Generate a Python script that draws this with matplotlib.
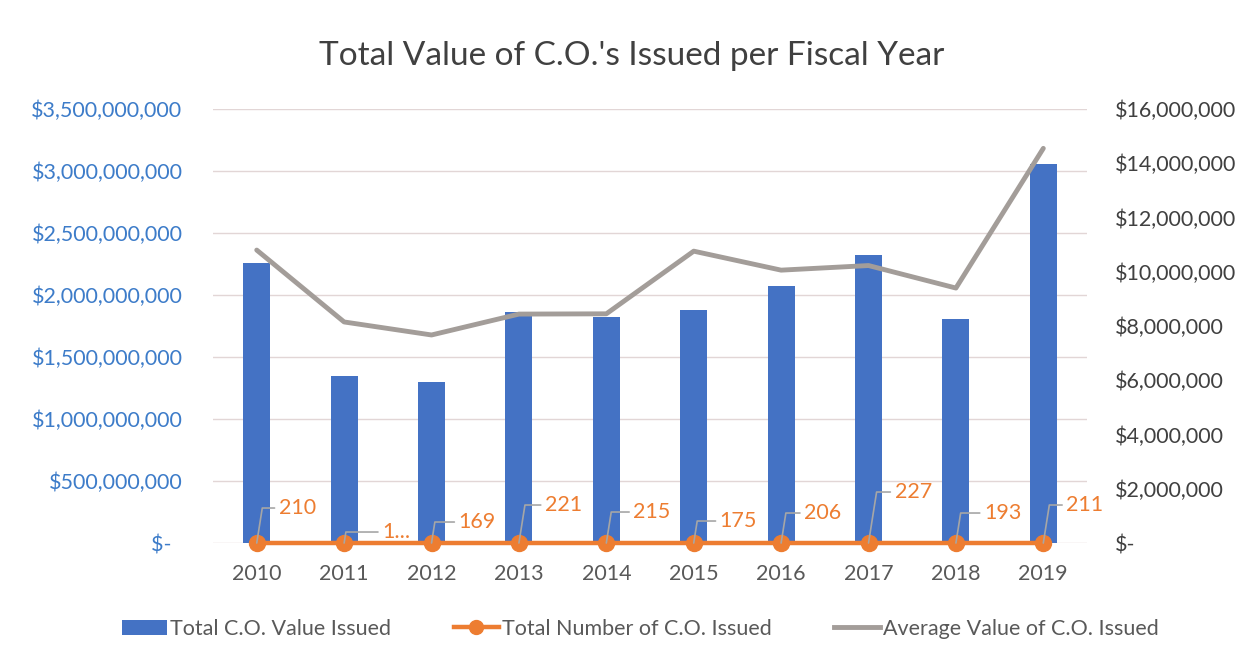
import matplotlib
matplotlib.use("Agg")
import matplotlib.pyplot as plt
from matplotlib.lines import Line2D
from matplotlib.patches import Patch

# ============================
# Data
# ============================

years = ["2010", "2011", "2012", "2013", "2014", "2015", "2016", "2017", "2018", "2019"]

total_value = [2.26e9, 1.35e9, 1.30e9, 1.86e9, 1.82e9, 1.88e9, 2.07e9, 2.32e9, 1.81e9, 3.06e9]

total_count = [210, 165, 169, 221, 215, 175, 206, 227, 193, 211]

count_labels = ["210", "1...", "169", "221", "215", "175", "206", "227", "193", "211"]

avg_value = [10.8e6, 8.15e6, 7.67e6, 8.44e6, 8.45e6, 10.76e6, 10.06e6, 10.23e6, 9.40e6, 14.55e6]

left_ticks = [0, 5e8, 1e9, 1.5e9, 2e9, 2.5e9, 3e9, 3.5e9]
right_ticks = [0, 2e6, 4e6, 6e6, 8e6, 10e6, 12e6, 14e6, 16e6]

# label offsets in pixels (dx, dy) from each point
label_offsets = [(22, 35), (38, 11), (27, 21), (26, 38), (27, 31),
                 (26, 22), (23, 30), (26, 51), (28, 30), (23, 38)]

# ============================
# Style
# ============================

plt.rcParams["font.family"] = ["Lato", "DejaVu Sans"]

blue = "#4472C4"
orange = "#ED7D31"
gray = "#A39D99"
axis_blue = "#3D7CC9"
text_gray = "#595959"
fs = 15.5

# ============================
# Figure
# ============================

fig = plt.figure(figsize=(12.48, 6.64), dpi=100)
ax = fig.add_axes([0.1707, 0.1822, 0.7003, 0.6536])
ax2 = ax.twinx()

x = list(range(len(years)))

ax.bar(x, total_value, width=0.31, color=blue, zorder=2)

ax.plot(x, total_count, color=orange, lw=3.2, marker="o", markersize=11.5,
        zorder=3, clip_on=False)

ax2.plot(x, avg_value, color=gray, lw=3.5, solid_capstyle="round", zorder=3)

# data labels with leader lines
for i in x:
    ax.annotate(
        count_labels[i],
        xy=(i, total_count[i]),
        xytext=label_offsets[i],
        textcoords="offset pixels",
        ha="left",
        va="center",
        fontsize=fs,
        color=orange,
        zorder=5,
        arrowprops=dict(arrowstyle="-", color="#A6A6A6", lw=1.2,
                        connectionstyle="angle,angleA=0,angleB=81,rad=0",
                        shrinkA=1, shrinkB=0),
    )

# axes limits and ticks
ax.set_xlim(-0.5, 9.5)
ax.set_ylim(0, 3.5e9)
ax2.set_ylim(0, 16e6)

ax.set_xticks(x)
ax.set_xticklabels(years)
ax.set_yticks(left_ticks)
ax.set_yticklabels(["$-  "] + [f"${v:,.0f}" for v in left_ticks[1:]])
ax2.set_yticks(right_ticks)
ax2.set_yticklabels(["$-"] + [f"${v:,.0f}" for v in right_ticks[1:]])

ax.tick_params(axis="x", length=0, pad=15, labelsize=fs, labelcolor=text_gray)
ax.tick_params(axis="y", length=0, pad=22, labelsize=fs, labelcolor=axis_blue)
ax2.tick_params(axis="y", length=0, pad=20, labelsize=fs, labelcolor="#404040")

ax.grid(axis="y", color="#E2D6D6", lw=1)
ax.set_axisbelow(True)

for a in (ax, ax2):
    for s in a.spines.values():
        s.set_visible(False)

fig.text(0.506, 0.915, "Total Value of C.O.'s Issued per Fiscal Year",
         ha="center", va="center", fontsize=24, color="#404040")

# ============================
# Legend
# ============================

handles = [
    Patch(facecolor=blue),
    Line2D([0], [0], color=orange, lw=3.2, marker="o", markersize=10),
    Line2D([0], [0], color=gray, lw=3.5),
]
labels = ["Total C.O. Value Issued", "Total Number of C.O. Issued",
          "Average Value of C.O. Issued"]

fig.legend(handles, labels, loc="center", bbox_to_anchor=(0.513, 0.053),
           ncol=3, frameon=False, fontsize=fs, labelcolor=text_gray,
           handlelength=2.1, handletextpad=0.15, columnspacing=2.9)

fig.savefig("out.png", dpi=100, facecolor="white")
